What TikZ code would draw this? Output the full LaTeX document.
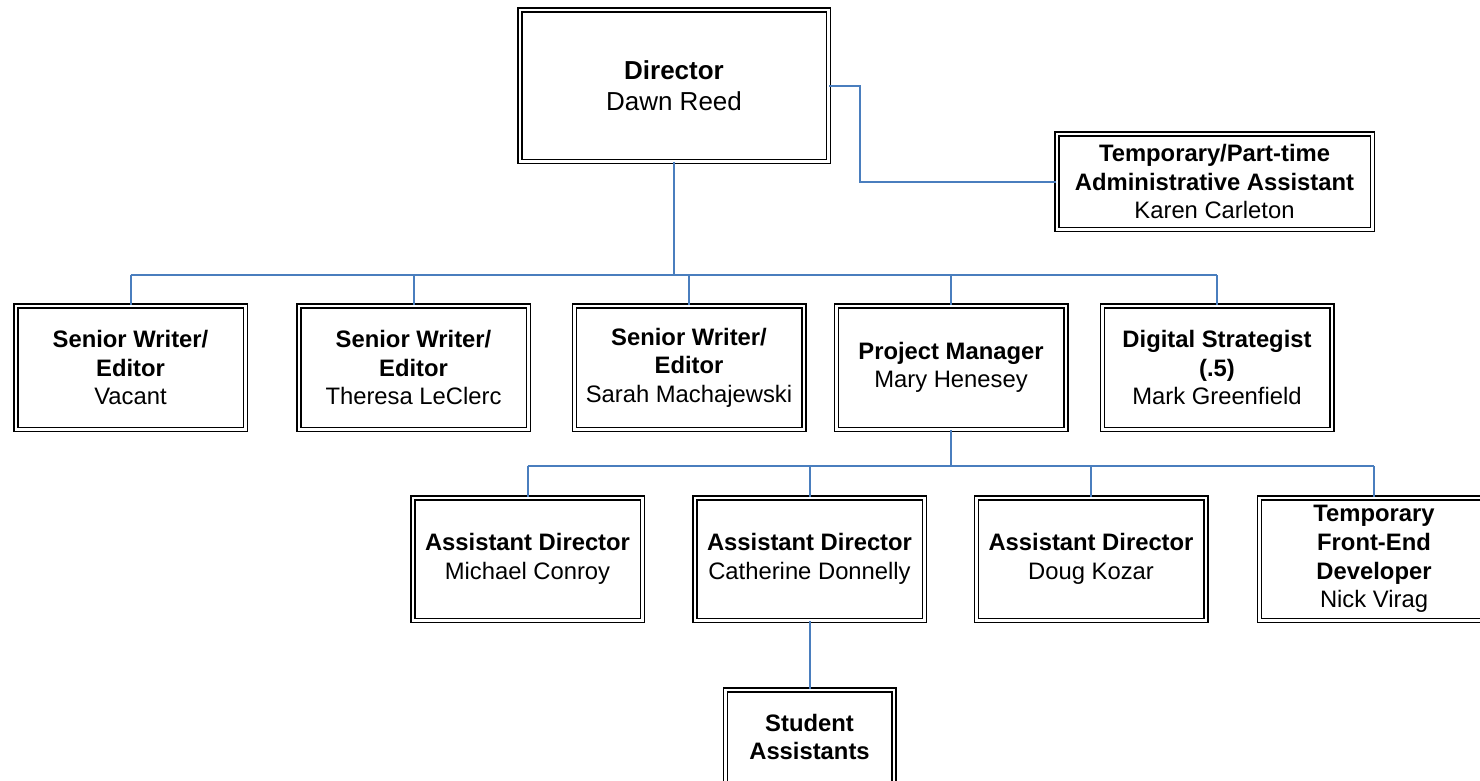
\documentclass[tikz,border=0pt]{standalone}
\usepackage{fontspec}
\setmainfont{Liberation Sans}
\definecolor{wireblue}{RGB}{74,126,190}
\begin{document}
\begin{tikzpicture}[x=1pt,y=-1pt,
    officebox/.style={draw=black,line width=1.5pt,double=white,double distance=2.5pt,
      align=center,inner sep=0pt,minimum width=229.5pt,minimum height=123.5pt},
    wire/.style={draw=wireblue,line width=2pt}]
            \useasboundingbox (0,0) rectangle (1480,780);
            {\fontsize{23.8}{28.6}\selectfont

            % Drawing box Director
            \node [officebox,minimum width=308.5pt,minimum height=151.5pt,font=\fontsize{26}{31.3}\selectfont]
              (dir) at (674.0,85.5) {\textbf{Director}\\Dawn Reed};%

            % Drawing box Temporary/Part-time
            \node [officebox,minimum width=315.5pt,minimum height=95.5pt]
              (temp) at (1214.5,181.5) {\textbf{Temporary/Part-time}\\\textbf{Administrative Assistant}\\Karen Carleton};%

            % Drawing boxes of first row
            \node [officebox] (swa) at (130.5,367.5) {\textbf{Senior Writer/}\\\textbf{Editor}\\Vacant};%
            \node [officebox] (swb) at (413.5,367.5) {\textbf{Senior Writer/}\\\textbf{Editor}\\Theresa LeClerc};%
            \node [officebox] (swc) at (689.0,367.5) {\textbf{Senior Writer/}\\\textbf{Editor}\\Sarah Machajewski};%
            \node [officebox] (pm) at (951.0,367.5) {\textbf{Project Manager}\\Mary Henesey};%
            \node [officebox] (dstr) at (1217.0,367.5) {\textbf{Digital Strategist}\\\textbf{(.5)}\\Mark Greenfield};%

            % Drawing boxes of second row
            \node [officebox,minimum height=122.5pt] (ada) at (527.5,559.0) {\textbf{Assistant Director}\\Michael Conroy};%
            \node [officebox,minimum height=122.5pt] (adb) at (809.5,559.0) {\textbf{Assistant Director}\\Catherine Donnelly};%
            \node [officebox,minimum height=122.5pt] (adc) at (1091.0,559.0) {\textbf{Assistant Director}\\Doug Kozar};%
            \node [officebox,minimum height=122.5pt] (fed) at (1374.0,559.0) {\textbf{Temporary}\\\textbf{Front-End}\\\textbf{Developer}\\Nick Virag};%

            % Drawing box Student Assistants
            \node [officebox,minimum width=168.5pt,minimum height=94.5pt] (stud) at (809.5,737.0) {\textbf{Student}\\\textbf{Assistants}};%

            % Drawing links from Director
            \coordinate (busone) at (674.0,275.0);
            \draw [wire] (dir.south) -- (busone);%
            \draw [wire] (busone -| swa.north) -- (busone -| dstr.north);%
            \foreach \n in {swa,swb,swc,pm,dstr}
              \draw [wire] (busone -| \n.north) -- (\n.north);%
            \draw [wire] (dir.east) -- ++(30.5,0) |- (temp.west);%

            % Drawing links from Project Manager
            \coordinate (bustwo) at (951.0,466.0);
            \draw [wire] (pm.south) -- (bustwo);%
            \draw [wire] (bustwo -| ada.north) -- (bustwo -| fed.north);%
            \foreach \n in {ada,adb,adc,fed}
              \draw [wire] (bustwo -| \n.north) -- (\n.north);%

            % Drawing link to Student Assistants
            \draw [wire] (adb.south) -- (stud.north);%

            }
        \end{tikzpicture}
\end{document}
